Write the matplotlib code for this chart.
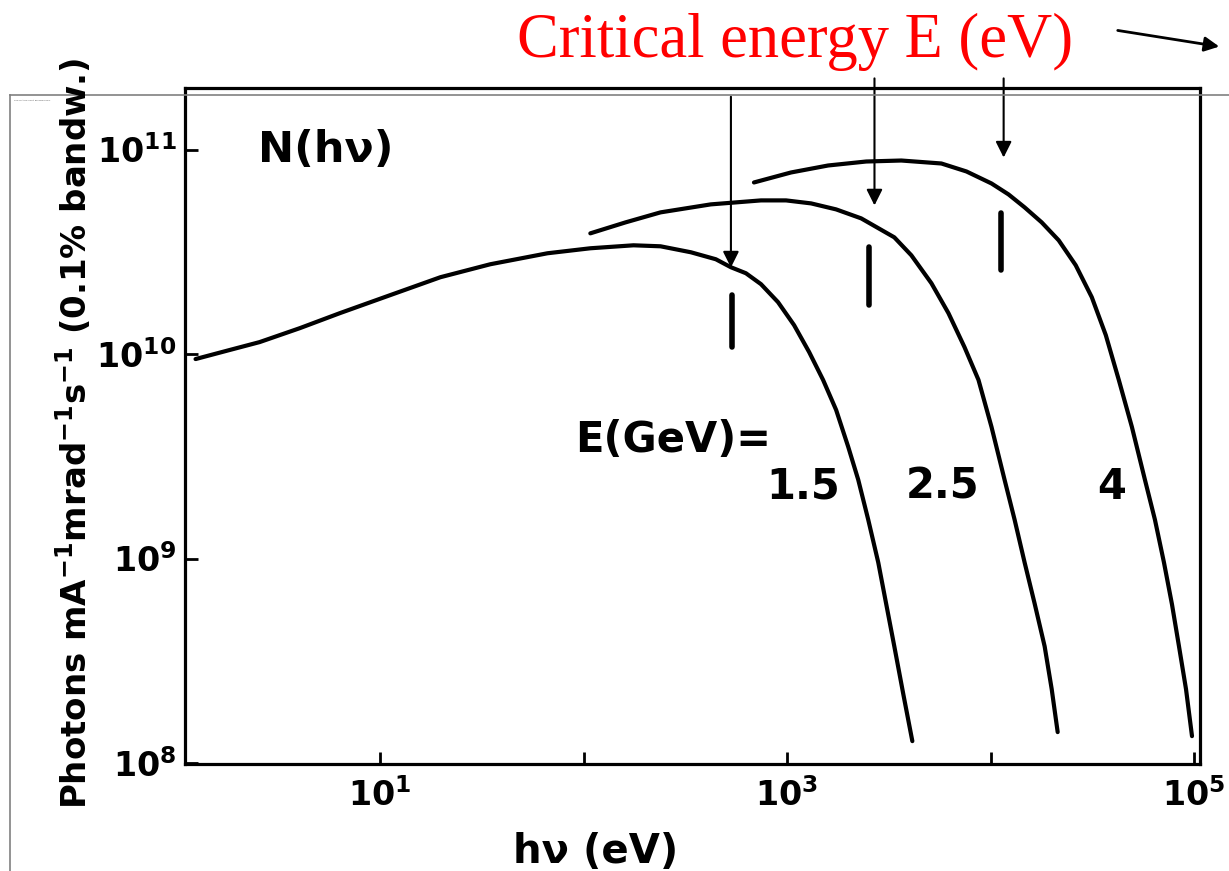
import numpy as np
import matplotlib
matplotlib.use('Agg')
import matplotlib.pyplot as plt
from matplotlib.lines import Line2D
from matplotlib.patches import FancyArrowPatch

plt.rcParams['font.family'] = 'DejaVu Sans'
plt.rcParams['font.weight'] = 'bold'
plt.rcParams['mathtext.fontset'] = 'dejavusans'
plt.rcParams['mathtext.default'] = 'bf'

# photon energy (eV) and flux for each ring energy
hv_15 = [1.24, 1.82, 2.56, 4.04, 6.35, 11.2, 19.8, 34.8, 66.5, 108, 176, 239, 337, 447,
         530, 628, 745, 903, 1083, 1284, 1504, 1743, 1998, 2238, 2506, 2808, 3074, 3367,
         3728, 4129]
n_15 = [9.45e9, 1.046e10, 1.144e10, 1.339e10, 1.585e10, 1.940e10, 2.375e10, 2.748e10,
        3.110e10, 3.290e10, 3.402e10, 3.364e10, 3.145e10, 2.907e10, 2.657e10, 2.484e10,
        2.196e10, 1.794e10, 1.385e10, 1.023e10, 7.47e9, 5.33e9, 3.52e9, 2.43e9, 1.55e9,
        9.56e8, 5.97e8, 3.72e8, 2.17e8, 1.28e8]

hv_25 = [108, 161, 239, 422, 745, 989, 1313, 1743, 2314, 3367, 4082, 5122, 6211, 7446,
         8728, 10110, 11720, 13130, 14710, 16470, 18450, 19980, 21380]
n_25 = [3.892e10, 4.405e10, 4.929e10, 5.393e10, 5.640e10, 5.640e10, 5.453e10, 5.097e10,
        4.607e10, 3.721e10, 3.040e10, 2.220e10, 1.585e10, 1.082e10, 7.47e9, 4.405e9,
        2.43e9, 1.55e9, 9.56e8, 6.03e8, 3.72e8, 2.30e8, 1.417e8]

hv_4 = [688, 1046, 1592, 2450, 3644, 5736, 7616, 10110, 12260, 14710, 17840, 21630,
        26220, 31450, 36850, 42700, 49500, 57370, 64250, 71180, 77930, 84370, 91330, 97750]
n_4 = [6.902e10, 7.724e10, 8.356e10, 8.739e10, 8.837e10, 8.546e10, 7.812e10, 6.825e10,
       6.033e10, 5.214e10, 4.405e10, 3.598e10, 2.718e10, 1.897e10, 1.238e10, 7.47e9,
       4.405e9, 2.43e9, 1.55e9, 9.56e8, 5.97e8, 3.72e8, 2.30e8, 1.354e8]

ring_labels = ['1.5', '2.5', '4']
label_hv = [790, 3850, 33300]

# critical energy markers (short bars) and the arrows pointing at them
ec_hv = [536, 2535, 11300]
ec_lo = [1.08e10, 1.73e10, 2.57e10]
ec_hi = [1.94e10, 3.33e10, 4.88e10]
arrow_hv = [530, 2690, 11600]
arrow_tip = [2.65e10, 5.33e10, 9.14e10]
arrow_top = [0.889, 0.910, 0.910]   # figure fraction

fig = plt.figure(figsize=(12.29, 8.71), dpi=100)
ax = fig.add_axes([0.1505, 0.1229, 0.8259, 0.7761])

for hv, n in [(hv_15, n_15), (hv_25, n_25), (hv_4, n_4)]:
    ax.plot(hv, n, color='black', lw=3.0, solid_capstyle='round', solid_joinstyle='round')

for x, lo, hi in zip(ec_hv, ec_lo, ec_hi):
    ax.plot([x, x], [lo, hi], color='black', lw=4, solid_capstyle='round')

for x, tip, top in zip(arrow_hv, arrow_tip, arrow_top):
    ax.annotate('', xy=(x, tip), xycoords='data',
                xytext=(x, top), textcoords=('data', 'figure fraction'),
                arrowprops=dict(arrowstyle='-|>', color='black', lw=1.5,
                                mutation_scale=24, shrinkA=0, shrinkB=0),
                annotation_clip=False)

ax.set_xscale('log')
ax.set_yscale('log')
ax.set_xlim(1.1, 1.07e5)
ax.set_ylim(0.99e8, 2.0e11)

ax.set_xticks([1e1, 1e2, 1e3, 1e4, 1e5])
ax.set_xticklabels(['$10^1$', '', '$10^3$', '', '$10^5$'])
ax.set_yticks([1e8, 1e9, 1e10, 1e11])
ax.set_yticklabels(['$10^8$', '$10^9$', '$10^{10}$', '$10^{11}$'])
ax.minorticks_off()
ax.tick_params(axis='both', which='major', direction='in', length=9, width=2,
               labelsize=24)
ax.tick_params(axis='x', pad=10)
ax.tick_params(axis='y', pad=6)
for s in ax.spines.values():
    s.set_linewidth(2.3)

ax.text(2.5, 1.0e11, 'N(hν)', fontsize=31, fontweight='bold', va='center', ha='left')
ax.text(91, 3.8e9, 'E(GeV)=', fontsize=30, fontweight='bold', va='center', ha='left')
for lab, x in zip(ring_labels, label_hv):
    ax.text(x, 2.24e9, lab, fontsize=30, fontweight='bold', va='center', ha='left')

fig.text(0.485, 0.022, 'hν (eV)', fontsize=29, fontweight='bold', ha='center', va='center')
fig.text(0.0595, 0.503, 'Photons mA$^{-1}$mrad$^{-1}$s$^{-1}$ (0.1% bandw.)',
         fontsize=24.5, fontweight='bold', rotation=90, ha='center', va='center')

# slide caption above the plot
fig.text(0.647, 0.9346, 'Critical energy E (eV)', fontsize=45, color='red',
         family='Liberation Serif', fontweight='normal', ha='center', va='baseline')
fig.patches.append(FancyArrowPatch(
    (1115 / 1229, 1 - 30 / 871), (1222 / 1229, 1 - 47 / 871),
    transform=fig.transFigure, arrowstyle='-|>', mutation_scale=22,
    color='black', lw=2))

# frame of the embedded picture
fig.add_artist(Line2D([10 / 1229, 1], [1 - 95 / 871, 1 - 95 / 871],
                      transform=fig.transFigure, color='#808080', lw=1.2))
fig.add_artist(Line2D([10 / 1229, 10 / 1229], [0, 1 - 95 / 871],
                      transform=fig.transFigure, color='#808080', lw=1.2))
fig.text(14 / 1229, 1 - 100 / 871, "The picture can't be displayed.", fontsize=1.7,
         fontweight='normal', color='#555555', va='center')

fig.savefig('out.png', dpi=100)
